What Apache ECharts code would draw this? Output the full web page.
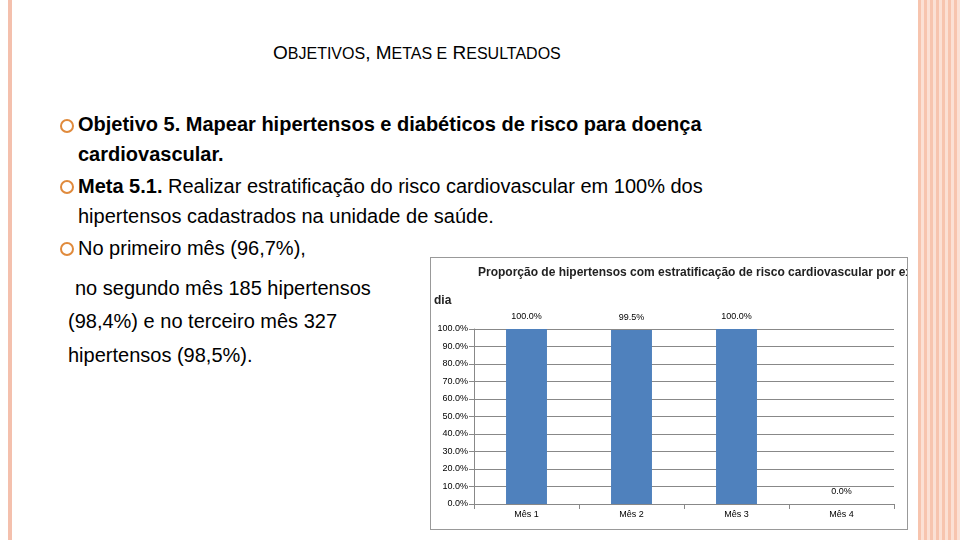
<!DOCTYPE html>
<html><head><meta charset="utf-8">
<script src="https://cdn.jsdelivr.net/npm/echarts@6/dist/echarts.min.js"></script>
<style>
body{margin:0;width:960px;height:540px;position:relative;overflow:hidden;background:#fff;font-family:"Liberation Sans",Arial,sans-serif;}
.t{position:absolute;color:#000;font-size:20px;white-space:nowrap}
.b{position:absolute;left:60px;width:10px;height:10px;border:2px solid #e08a3c;border-radius:50%}
</style></head><body>
<div style="position:absolute;left:8px;top:0;width:4px;height:540px;background:#f4c0ad"></div>
<div style="position:absolute;left:918px;top:0;width:42px;height:540px;background:repeating-linear-gradient(90deg,#f7c4ae 0 3px,#fbe0d4 3px 6px)"></div>
<div class="t" style="left:273px;top:42px;font-size:19px">O<span style="font-size:16px">BJETIVOS</span>, M<span style="font-size:16px">ETAS E</span> R<span style="font-size:16px">ESULTADOS</span></div>
<div class="b" style="top:119px"></div><div class="b" style="top:180px"></div><div class="b" style="top:242px"></div>
<div class="t" style="left:78px;top:113px"><b>Objetivo 5. Mapear hipertensos e diabéticos de risco para doença</b></div>
<div class="t" style="left:78px;top:143px"><b>cardiovascular.</b></div>
<div class="t" style="left:78px;top:175px"><b>Meta 5.1.</b> Realizar estratificação do risco cardiovascular em 100% dos</div>
<div class="t" style="left:78px;top:205px">hipertensos cadastrados na unidade de saúde.</div>
<div class="t" style="left:78px;top:237px">No primeiro mês (96,7%),</div>
<div class="t" style="left:75px;top:277px">no segundo mês 185 hipertensos</div>
<div class="t" style="left:68px;top:310px">(98,4%) e no terceiro mês 327</div>
<div class="t" style="left:68px;top:344px">hipertensos (98,5%).</div>
<div id="main" style="position:absolute;left:430px;top:257px;width:478px;height:273px;border:1px solid #999;box-sizing:border-box"></div>
<script>
var categories = ["Mês 1", "Mês 2", "Mês 3", "Mês 4"];
var values = [100.0, 99.5, 100.0, 0.0];
var myChart = echarts.init(document.getElementById("main"));
var ts = { fontSize: 12, fontWeight: "bold", color: "#222", fontFamily: "Liberation Sans" };
myChart.setOption({
  animation: false,
  title: [
    { text: "Proporção de hipertensos com estratificação de risco cardiovascular por exame clínico em", left: 42, top: 4, textStyle: ts },
    { text: "dia", left: -2, top: 32, textStyle: ts }
  ],
  grid: { left: 43, right: 13, top: 71, bottom: 25 },
  xAxis: {
    type: "category", data: categories,
    axisLine: { lineStyle: { color: "#888" } },
    axisTick: { show: true, lineStyle: { color: "#888" } },
    axisLabel: { fontSize: 9, color: "#000", margin: 6 }
  },
  yAxis: {
    type: "value", min: 0, max: 100, interval: 10,
    axisLine: { show: true, lineStyle: { color: "#888" } },
    axisTick: { show: true, lineStyle: { color: "#888" } },
    splitLine: { lineStyle: { color: "#888" } },
    axisLabel: { fontSize: 9, color: "#000", margin: 6, formatter: function (v) { return v.toFixed(1) + "%"; } }
  },
  series: [{
    type: "bar", data: values, barWidth: "39%",
    itemStyle: { color: "#4f81bd" },
    label: { show: true, position: "top", distance: 8, fontSize: 9, color: "#000",
      formatter: function (p) { return p.value.toFixed(1) + "%"; } }
  }]
});
</script>
</body></html>
